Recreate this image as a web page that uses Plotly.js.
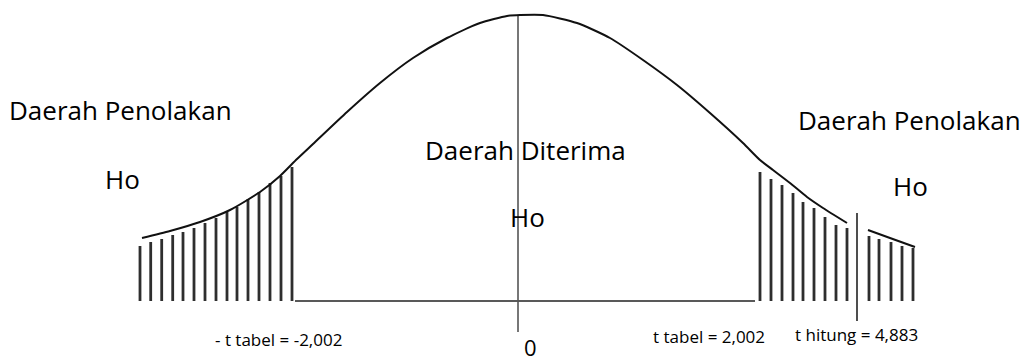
<!DOCTYPE html>
<html>
<head>
<meta charset="utf-8">
<script src="https://cdn.plot.ly/plotly-3.0.1.min.js"></script>
<style>
  html, body { margin: 0; padding: 0; background: #ffffff; }
  #chart { width: 1025px; height: 364px; }
</style>
</head>
<body>
<div id="chart"></div>
<script>
// ---- Data (diagram units: x = horizontal position from centre, y = height above baseline)
const curveX = [-376, -348, -318, -288, -258, -238, -221, -205, -171, -138, -105, -71, -38, -11, 2, 25, 59, 92, 125, 159, 192, 225, 242, 255, 272, 289, 305, 329, null, 350, 372, 397];
const curveY = [63, 70, 79, 91, 109, 125, 142, 157, 189, 218, 243, 263, 278, 285, 286, 286, 278, 263, 241, 216, 188, 158, 141, 131, 118, 104, 93, 78, null, 71, 63, 54];

const leftBarX = [-378, -367.3, -356.3, -345.3, -335, -324, -313, -302, -291, -281, -270, -259, -248, -237, -226];
const leftBarH = [55, 59, 62, 66, 69, 73, 78, 83, 89, 94, 102, 109, 118, 125, 134];

const rightBarX = [242, 253, 264, 275, 285, 296, 307, 318, 329];
const rightBarH = [129, 122, 116, 108, 99, 93, 84, 76, 73];

const tailBarX = [351, 361, 373, 384, 395];
const tailBarH = [65, 62, 59, 55, 53];

const baselineX = [-223, 237];
const baselineY = [0, 0];

const centreLineX = [0, 0];
const centreLineY = [-31, 286];

const tHitungLineX = [339, 339];
const tHitungLineY = [-20, 88];

const regionLabels = ["Daerah Penolakan", "Daerah Diterima", "Daerah Penolakan"];
const hoLabel = "Ho";
const tickLabels = ["- t tabel = -2,002", "t tabel = 2,002", "t hitung = 4,883"];
const zeroLabel = "0";

// ---- Styles
const ink = "#000000";
const barInk = "#2e2e2e";
const bigFont = { family: "Open Sans, Noto Sans, sans-serif", size: 26, color: ink };
const zeroFont = { family: "Open Sans, Noto Sans, sans-serif", size: 22, color: ink };
const smallFont = { family: "Open Sans, Noto Sans, sans-serif", size: 17, color: ink };

const barStyle = { type: "bar", width: 2.8, marker: { color: barInk, line: { width: 0 } }, hoverinfo: "skip", showlegend: false };

const traces = [
  Object.assign({ x: leftBarX, y: leftBarH }, barStyle),
  Object.assign({ x: rightBarX, y: rightBarH }, barStyle),
  Object.assign({ x: tailBarX, y: tailBarH }, barStyle),
  { type: "scatter", mode: "lines", x: baselineX, y: baselineY, line: { color: "#222222", width: 1.6 }, hoverinfo: "skip", showlegend: false },
  { type: "scatter", mode: "lines", x: centreLineX, y: centreLineY, line: { color: "#555555", width: 1.6 }, hoverinfo: "skip", showlegend: false },
  { type: "scatter", mode: "lines", x: tHitungLineX, y: tHitungLineY, line: { color: "#222222", width: 1.6 }, hoverinfo: "skip", showlegend: false },
  { type: "scatter", mode: "lines", x: curveX, y: curveY, connectgaps: false, line: { color: "#111111", width: 2, shape: "spline", smoothing: 0.6 }, hoverinfo: "skip", showlegend: false }
];

function label(text, x, y, font) {
  return { text: text, x: x, y: y, xref: "x", yref: "y", showarrow: false, xanchor: "center", yanchor: "middle", font: font };
}

const annotations = [
  label(regionLabels[0], -398, 191, bigFont),
  label(hoLabel, -396, 122, bigFont),
  label(regionLabels[1], 7, 151, bigFont),
  label(hoLabel, 9, 84, bigFont),
  label(regionLabels[2], 391, 181, bigFont),
  label(hoLabel, 392, 115, bigFont),
  label(tickLabels[0], -240, -38, smallFont),
  label(tickLabels[1], 191, -35, smallFont),
  label(tickLabels[2], 338, -33, smallFont),
  label(zeroLabel, 12, -46, zeroFont)
];

const layout = {
  width: 1025,
  height: 364,
  margin: { l: 0, r: 0, t: 0, b: 0, pad: 0 },
  paper_bgcolor: "#ffffff",
  plot_bgcolor: "#ffffff",
  showlegend: false,
  barmode: "overlay",
  xaxis: { range: [-518, 507], visible: false, showgrid: false, zeroline: false, fixedrange: true },
  yaxis: { range: [-63, 301], visible: false, showgrid: false, zeroline: false, fixedrange: true },
  annotations: annotations
};

Plotly.newPlot("chart", traces, layout, { staticPlot: true, displayModeBar: false });
</script>
</body>
</html>
